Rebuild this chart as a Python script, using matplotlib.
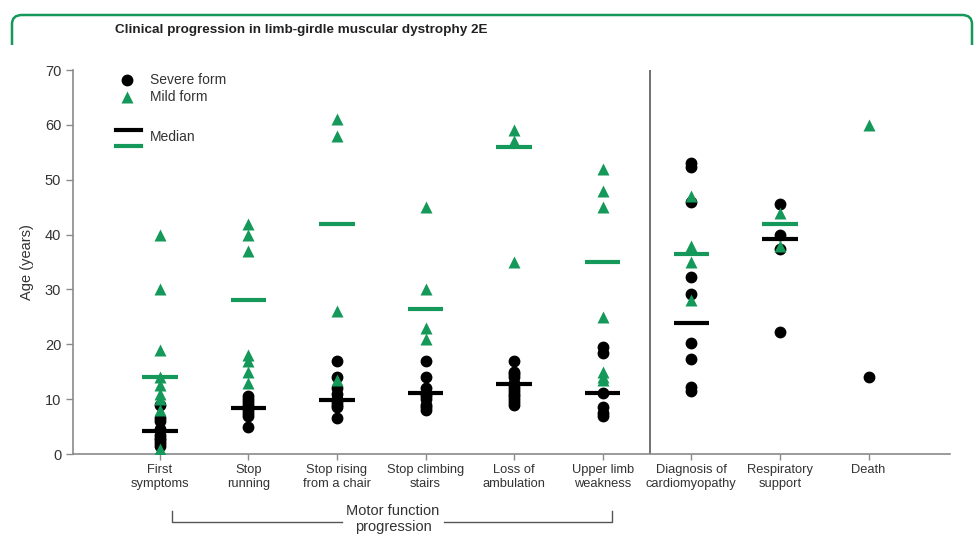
import numpy as np
import matplotlib
matplotlib.use("Agg")
import matplotlib.pyplot as plt
from matplotlib.lines import Line2D
from matplotlib.path import Path
from matplotlib.patches import PathPatch

plt.rcParams['font.family'] = ['Liberation Sans', 'DejaVu Sans']

# categories along the x axis
categories = ["First\nsymptoms", "Stop\nrunning", "Stop rising\nfrom a chair",
              "Stop climbing\nstairs", "Loss of\nambulation", "Upper limb\nweakness",
              "Diagnosis of\ncardiomyopathy", "Respiratory\nsupport", "Death"]

# age (years) of each patient, severe form
severe = [
    [9, 6.5, 6, 4.5, 3.5, 3, 2.5, 2, 1.5],
    [10.5, 10, 9.5, 9, 8.5, 8, 7.5, 7, 5],
    [17, 14, 12, 11, 10, 9.5, 9, 8.5, 6.5],
    [17, 14, 12, 11, 10.5, 10, 9, 8.5, 8],
    [17, 15, 14.5, 14, 13, 12.5, 12, 11.5, 11, 10.5, 10, 9.5, 9],
    [19.5, 18.5, 11.2, 8.5, 7.5, 7],
    [53, 52.3, 46, 32.2, 29.2, 20.3, 17.3, 12.2, 11.4],
    [45.5, 40, 37.3, 22.2],
    [14],
]
# age (years) of each patient, mild form
mild = [
    [40, 30, 19, 14, 12.5, 11, 10, 8, 1],
    [42, 40, 37, 18, 17, 15, 13],
    [61, 58, 26, 13.5],
    [45, 30, 23, 21],
    [59, 57, 35],
    [52, 48, 45, 25, 15, 14, 13.5],
    [47, 38, 35, 28],
    [44, 38],
    [60],
]
# medians (None = not shown)
median_severe = [4.2, 8.3, 9.8, 11.2, 12.7, 11.2, 23.8, 39.2, None]
median_mild = [14, 28, 42, 26.5, 56, 35, 36.5, 42, None]

GREEN = '#15995a'
GREY = '#8a8a8a'
TXT = '#333333'

W, H = 977, 545
fig = plt.figure(figsize=(W / 100, H / 100), dpi=100)


def fx(px):
    return px / W


def fy(py):
    return 1 - py / H


ax = fig.add_axes([fx(73), fy(454), fx(950) - fx(73), fy(70) - fy(454)])

xs = np.arange(len(categories))
for i in xs:
    ax.plot([i] * len(severe[i]), severe[i], 'o', color='black', ms=7.5, zorder=3)
for i in xs:
    ax.plot([i] * len(mild[i]), mild[i], '^', color=GREEN, ms=8.5, mec='none', zorder=4)
for i in xs:
    if median_severe[i] is not None:
        ax.plot([i - 0.2, i + 0.2], [median_severe[i]] * 2, color='black', lw=3,
                solid_capstyle='butt', zorder=5)
    if median_mild[i] is not None:
        ax.plot([i - 0.2, i + 0.2], [median_mild[i]] * 2, color=GREEN, lw=3,
                solid_capstyle='butt', zorder=5)

ax.set_xlim(-0.98, 8.92)
ax.set_ylim(0, 70)
ax.set_yticks(range(0, 71, 10))
ax.set_xticks(xs)
ax.set_xticklabels(categories, fontsize=9.3, color=TXT, linespacing=1.2)
ax.tick_params(axis='y', labelsize=10.5, colors=GREY, labelcolor=TXT, length=5, width=1)
ax.tick_params(axis='x', colors=GREY, labelcolor=TXT, length=4, width=1, pad=3)
for s in ['top', 'right']:
    ax.spines[s].set_visible(False)
for s in ['left', 'bottom']:
    ax.spines[s].set_color(GREY)
    ax.spines[s].set_linewidth(1.2)
ax.axvline(5.53, ymin=0, ymax=1, color='#666666', lw=1.3)
ax.set_ylabel('Age (years)', fontsize=10.5, color=TXT, labelpad=8)

# legend drawn by hand
fig.add_artist(Line2D([fx(127)], [fy(80)], marker='o', color='black', ms=7.5,
                      transform=fig.transFigure))
fig.add_artist(Line2D([fx(127)], [fy(97)], marker='^', color=GREEN, ms=8, mec='none',
                      transform=fig.transFigure))
fig.add_artist(Line2D([fx(116), fx(141)], [fy(130)] * 2, color='black', lw=3,
                      transform=fig.transFigure))
fig.add_artist(Line2D([fx(116), fx(141)], [fy(146)] * 2, color=GREEN, lw=3,
                      transform=fig.transFigure))
fig.text(fx(150), fy(80), 'Severe form', fontsize=10, color=TXT, va='center')
fig.text(fx(150), fy(97), 'Mild form', fontsize=10, color=TXT, va='center')
fig.text(fx(150), fy(137), 'Median', fontsize=10, color=TXT, va='center')

# title frame
verts = [(fx(12), fy(45)), (fx(12), fy(24)), (fx(12), fy(15)), (fx(22), fy(15)),
         (fx(962), fy(15)), (fx(972), fy(15)), (fx(972), fy(24)), (fx(972), fy(45))]
codes = [Path.MOVETO, Path.LINETO, Path.CURVE3, Path.CURVE3,
         Path.LINETO, Path.CURVE3, Path.CURVE3, Path.LINETO]
fig.add_artist(PathPatch(Path(verts, codes), fill=False, edgecolor=GREEN, lw=1.8,
                         transform=fig.transFigure))
fig.text(fx(115), fy(30), 'Clinical progression in limb-girdle muscular dystrophy 2E',
         fontsize=9.7, fontweight='bold', color='#222222', va='center')

# motor function bracket
fig.add_artist(Line2D([fx(172), fx(172), fx(342)], [fy(511), fy(522), fy(522)],
                      color='#555555', lw=1, transform=fig.transFigure))
fig.add_artist(Line2D([fx(444), fx(612), fx(612)], [fy(522), fy(522), fy(511)],
                      color='#555555', lw=1, transform=fig.transFigure))
fig.text(fx(393), fy(519), 'Motor function\nprogression', fontsize=10.5, color=TXT,
         ha='center', va='center', linespacing=1.15)

fig.savefig('out.png', dpi=100)
